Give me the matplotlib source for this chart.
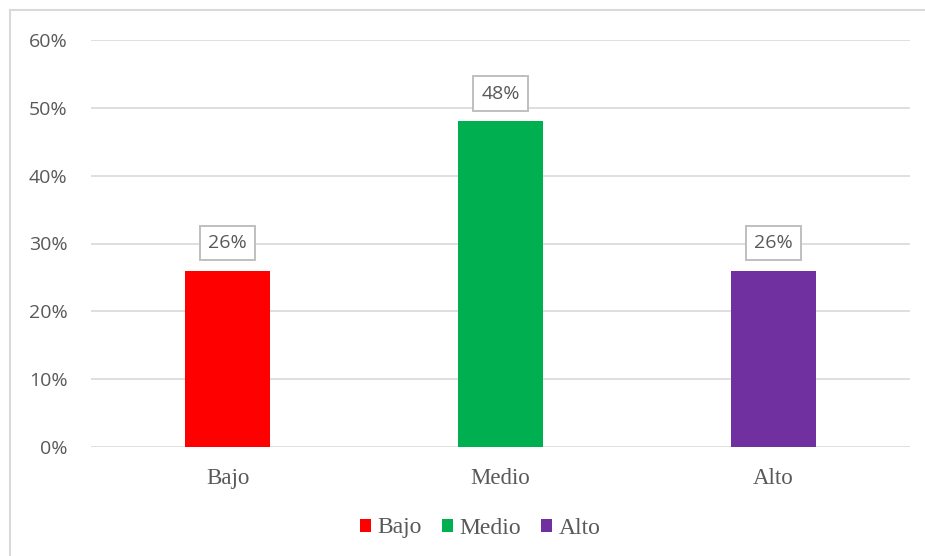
import matplotlib.pyplot as plt
from matplotlib.lines import Line2D
from matplotlib.patches import Patch
from matplotlib.ticker import PercentFormatter

# data
categories = ['Bajo', 'Medio', 'Alto']
values = [0.26, 0.48, 0.26]
labels = ['26%', '48%', '26%']
colors = ['#FF0000', '#00B050', '#7030A0']
yticks = [0, 0.1, 0.2, 0.3, 0.4, 0.5, 0.6]

text_color = '#595959'
grid_color = '#D9D9D9'

fig = plt.figure(figsize=(9.25, 5.56), dpi=100)
ax = fig.add_axes([91 / 925, 109 / 556, (910 - 91) / 925, (447 - 40) / 556])

x = range(len(categories))
ax.bar(x, values, width=0.31, color=colors, zorder=3)

ax.set_xlim(-0.5, 2.5)
ax.set_ylim(0, 0.6)
ax.set_yticks(yticks)
ax.yaxis.set_major_formatter(PercentFormatter(1.0, decimals=0))
ax.grid(axis='y', color=grid_color, linewidth=1.2, zorder=0)

for s in ax.spines.values():
    s.set_visible(False)
ax.tick_params(axis='both', length=0, colors=text_color)
ax.tick_params(axis='y', pad=17)
ax.tick_params(axis='x', pad=15)
for t in ax.get_yticklabels():
    t.set_fontfamily('Open Sans')
    t.set_fontsize(14)
ax.set_xticks(list(x))
ax.set_xticklabels(categories, fontfamily='Liberation Serif', fontsize=16.5, color=text_color)

# data labels
for i, (v, lab) in enumerate(zip(values, labels)):
    ax.annotate(lab, (i, v), xytext=(0, 20), textcoords='offset points',
                ha='center', va='center', fontsize=14, family='Open Sans',
                color=text_color,
                bbox=dict(boxstyle='square,pad=0.42', fc='white', ec='#BFBFBF', lw=1.4),
                zorder=4)

# legend
handles = [Patch(facecolor=c, edgecolor='none') for c in colors]
leg = fig.legend(handles, categories, loc='center', bbox_to_anchor=(480 / 925, (556 - 528) / 556),
                 ncol=3, frameon=False, handlelength=0.48, handleheight=0.48,
                 handletextpad=0.26, columnspacing=0.85,
                 prop={'family': 'Liberation Serif', 'size': 17})
for t in leg.get_texts():
    t.set_color(text_color)

# chart border (left and top visible)
fig.add_artist(Line2D([10 / 925, 10 / 925], [0, 1 - 10 / 556], color=grid_color, lw=1.5))
fig.add_artist(Line2D([10 / 925, 1], [1 - 10 / 556, 1 - 10 / 556], color=grid_color, lw=1.5))

fig.savefig('out.png', dpi=100)
